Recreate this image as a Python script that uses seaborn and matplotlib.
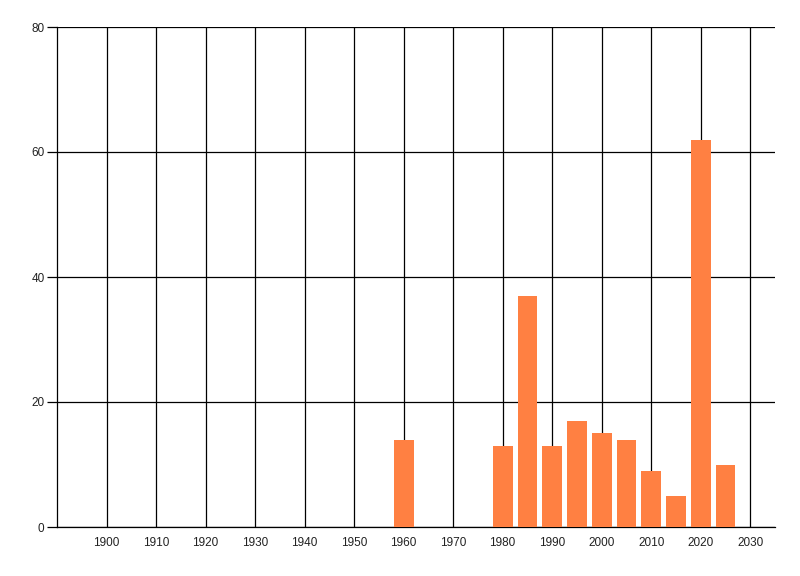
import numpy as np
import pandas as pd
import matplotlib
matplotlib.use("Agg")
import matplotlib.pyplot as plt
import seaborn as sns

# data
years = [1960, 1980, 1985, 1990, 1995, 2000, 2005, 2010, 2015, 2020, 2025]
counts = [14, 13, 37, 13, 17, 15, 14, 9, 5, 62, 10]
xticks = list(range(1900, 2031, 10))
yticks = [0, 20, 40, 60, 80]

bar_color = "#FF8042"

sns.set_style("white")
plt.rcParams['font.family'] = ['Liberation Sans', 'DejaVu Sans']

df = pd.DataFrame({"year": years, "count": counts})

fig = plt.figure(figsize=(8, 5.76), dpi=100)
ax = fig.add_axes([57 / 800, 49 / 576, (775 - 57) / 800, 500 / 576])

sns.barplot(data=df, x="year", y="count", native_scale=True, color=bar_color,
            saturation=1, width=0.8, linewidth=0, ax=ax, zorder=3)

ax.set_xlim(1890, 2035)
ax.set_ylim(0, 80)
ax.set_xticks(xticks)
ax.set_xticklabels([str(t) for t in xticks])
ax.set_yticks(yticks)
ax.set_yticklabels([str(t) for t in yticks])

ax.set_axisbelow(True)
ax.grid(True, color="black", linewidth=0.9)
ax.tick_params(axis="x", bottom=False, length=0, pad=7, labelsize=8.5, colors="#222222")
ax.tick_params(axis="y", left=True, length=7, width=0.9, pad=2, labelsize=8.5,
               color="black", labelcolor="#222222")

ax.set_xlabel("")
ax.set_ylabel("")

for side in ["top", "right"]:
    ax.spines[side].set_visible(False)
for side in ["left", "bottom"]:
    ax.spines[side].set_color("black")
    ax.spines[side].set_linewidth(0.9)

fig.savefig("out.png", dpi=100)
